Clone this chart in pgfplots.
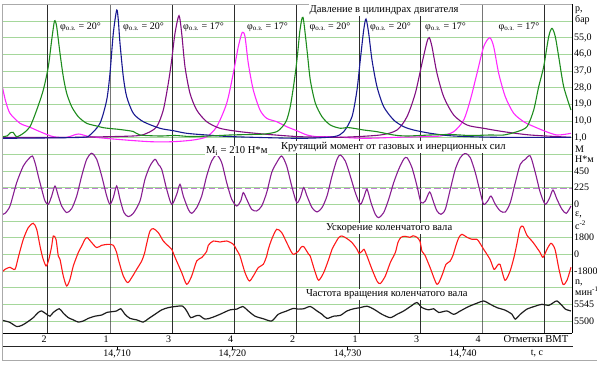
\documentclass[border=0pt]{standalone}
\usepackage{pgfplots}
\pgfplotsset{compat=1.18}
\usepackage{fontspec}
\setmainfont{Liberation Serif}
\definecolor{gridg}{RGB}{165,215,155}
\definecolor{cgreen}{RGB}{30,140,30}
\definecolor{cblue}{RGB}{25,25,145}
\definecolor{cpurp}{RGB}{130,15,130}
\definecolor{cmag}{RGB}{255,40,255}
\definecolor{ctorq}{RGB}{135,30,145}
\definecolor{cmi}{RGB}{190,125,210}
\definecolor{cred}{RGB}{255,25,25}
\definecolor{cblack}{RGB}{30,30,30}
\definecolor{vline}{RGB}{45,45,45}
\definecolor{frameg}{RGB}{170,170,170}
\newcommand\lf{\fontsize{10}{12}\selectfont}
\newcommand\tf{\fontsize{10.6}{12}\selectfont}
\pgfplotsset{
  panel/.style={
    scale only axis, width=570pt, height=329pt,
    at={(2pt,31.7pt)}, anchor=south west,
    xmin=0, xmax=49.48,
    axis line style={draw=none},
    xtick=\empty,
    yticklabel pos=right,
    major tick length=0pt,
    yticklabel style={font=\lf, inner xsep=2pt, inner ysep=1pt},
    every axis plot/.append style={smooth, tension=0.45, line width=1.1pt},
  }
}
\begin{document}
\begin{tikzpicture}
\useasboundingbox (0,0) rectangle (597pt,365pt);
% base grid and VMT marks (pressure scale: one grid step = 9 bar)
\begin{axis}[panel, ymin=-104.68, ymax=72.98, ytick=\empty, clip=false]
\pgfplotsinvokeforeach{-98,-89,...,64}{
  \draw[gridg, line width=0.8pt] (axis cs:0,#1) -- (axis cs:49.48,#1);
}
\pgfplotsinvokeforeach{3.967,9.375,14.783,20.165,25.582,31.016,36.311,41.667,47.075}{
  \draw[vline, line width=0.7pt] (axis cs:#1,72.98) -- (axis cs:#1,-104.68) -- ++(0,-3pt);
}
\end{axis}
% pressure
\begin{axis}[panel, ymin=-104.68, ymax=72.98, ytick={1,10,19,28,37,46,55}, yticklabels={{1,0},{10,0},{19,0},{28,0},{37,0},{46,0},{55,0}}]
\addplot[cmag] coordinates {(0,29.40)(0.3,21.0)(0.694,14.12)(1.563,8.72)(2.431,6.56)(3.299,4.19)(4.453,1.49)(5.616,1.16)(6.623,2.94)(7.639,1.49)(9.957,0.08)(12.847,-1.21)(14.870,-1.21)(16.606,-0.30)(17.769,1.49)(18.637,6.89)(19.505,19.52)(20.078,35.72)(20.512,50.09)(20.859,57.86)(21.094,55.49)(21.380,41.12)(21.814,26.70)(22.396,15.90)(22.977,11.42)(23.845,9.59)(24.713,6.89)(25.582,4.73)(26.476,2.40)(27.344,1.49)(28.498,1.49)(31.398,0.62)(34.288,1.16)(36.606,1.49)(38.047,1.86)(39.210,4.19)(40.078,10.50)(40.651,21.30)(41.233,35.72)(41.814,50.09)(42.335,54.95)(42.682,50.09)(43.116,35.72)(43.689,23.09)(44.418,14.12)(45.286,9.59)(45.859,7.80)(47.023,4.73)(48.177,2.40)(49.392,3.32)};
\addplot[cpurp] coordinates {(0,1.16)(5.035,1.05)(11.372,1.86)(12.561,3.32)(13.429,6.89)(14.002,15.90)(14.436,30.32)(14.731,42.90)(15.017,57.32)(15.365,66.83)(15.599,57.32)(15.885,39.29)(16.319,24.92)(16.901,15.90)(17.769,9.59)(18.924,6.02)(20.660,4.19)(22.977,2.78)(25.868,1.49)(29.340,1.16)(32.839,2.40)(34.288,5.10)(35.156,12.29)(35.877,24.92)(36.458,41.12)(36.892,52.70)(37.092,54.95)(37.326,50.09)(37.760,35.72)(38.342,23.09)(39.210,13.20)(40.365,7.80)(41.814,6.02)(43.550,4.19)(45.859,2.40)(49.392,1.16)};
\addplot[cblue] coordinates {(0,0.62)(3.299,0.78)(7.031,1.16)(7.639,2.40)(8.507,8.72)(9.089,21.30)(9.375,35.72)(9.661,57.32)(9.957,69.90)(10.095,64.50)(10.243,51.92)(10.530,33.89)(10.825,23.09)(11.398,14.12)(12.266,9.59)(13.715,6.02)(14.870,4.73)(16.033,3.32)(17.769,2.40)(20.052,1.49)(25.868,0.62)(28.793,1.49)(29.661,4.19)(30.382,12.29)(30.816,26.70)(31.102,42.90)(31.398,59.10)(31.597,65.04)(31.832,57.32)(32.118,42.90)(32.552,28.49)(33.134,17.69)(34.002,10.50)(34.870,6.89)(35.738,5.10)(37.179,3.32)(39.210,1.86)(42.969,1.16)(49.392,1.16)};
\addplot[cgreen] coordinates {(0,1.49)(0.434,1.86)(0.694,3.48)(0.955,3.86)(1.276,1.49)(1.849,3.32)(2.431,6.89)(3.012,15.90)(3.585,26.70)(4.019,39.29)(4.314,53.70)(4.514,62.72)(4.601,64.13)(4.748,60.89)(5.035,46.52)(5.321,33.89)(5.616,24.92)(6.050,17.69)(6.623,12.29)(7.352,8.72)(8.220,7.26)(8.793,6.35)(9.375,5.91)(10.243,5.37)(11.398,4.29)(11.979,2.40)(13.715,1.86)(15.017,2.13)(16.319,1.59)(18.056,1.86)(19.792,2.40)(21.528,2.67)(22.830,2.94)(23.845,4.19)(24.392,7.26)(24.713,10.50)(25.000,16.98)(25.260,26.70)(25.521,38.58)(25.694,48.30)(25.868,59.10)(26.128,65.96)(26.476,48.30)(26.762,32.10)(27.196,19.68)(27.778,12.29)(28.498,7.80)(29.366,6.02)(29.948,6.45)(30.530,6.02)(31.398,5.10)(32.552,4.19)(34.002,2.40)(35.156,1.86)(37.153,2.40)(38.889,2.67)(40.625,2.13)(42.361,2.40)(43.550,2.40)(44.705,4.19)(45.573,6.89)(46.155,15.90)(46.589,28.49)(47.023,39.29)(47.457,55.49)(47.743,60.02)(48.030,55.49)(48.325,44.69)(48.759,28.49)(49.392,15.90)};
\end{axis}
% torque
\begin{axis}[panel, ymin=-1741.5, ymax=2700, ytick={0,225,450}, yticklabels={0,225,450}]
\addplot[cmi, line width=1.2pt, dash pattern=on 6pt off 3pt] coordinates {(0,210)(49.48,210)};
\addplot[ctorq] coordinates {(0,-135)(0.260,-122)(0.694,-23)(1.276,293)(1.849,517)(2.283,608)(2.630,652)(2.865,563)(3.151,382)(3.446,203)(3.733,45)(4.019,0)(4.314,112)(4.601,247)(4.887,112)(5.182,-23)(5.616,-112)(6.050,-58)(6.484,112)(6.918,382)(7.352,608)(7.786,689)(8.220,608)(8.654,382)(9.089,112)(9.375,0)(9.661,90)(9.957,247)(10.243,68)(10.590,-112)(10.964,-166)(11.398,-122)(11.979,45)(12.413,338)(12.847,517)(13.281,608)(13.568,540)(13.863,473)(14.297,203)(14.731,0)(15.165,135)(15.451,270)(15.738,112)(16.172,-68)(16.467,-122)(16.901,-45)(17.335,112)(17.769,382)(18.203,585)(18.637,666)(19.071,563)(19.505,293)(19.939,68)(20.373,-23)(20.720,45)(20.946,158)(21.241,68)(21.675,-68)(22.109,-90)(22.543,-23)(22.977,158)(23.411,428)(23.845,563)(24.279,652)(24.713,517)(25.148,247)(25.582,23)(25.894,90)(26.189,225)(26.476,112)(26.910,-45)(27.344,-104)(27.778,-45)(28.212,112)(28.646,382)(29.080,608)(29.366,666)(29.800,585)(30.234,382)(30.668,158)(31.102,0)(31.398,90)(31.684,203)(32.031,23)(32.405,-135)(32.700,-180)(33.134,-112)(33.568,68)(34.002,293)(34.436,473)(34.870,608)(35.156,630)(35.590,495)(36.024,247)(36.372,23)(36.745,45)(37.127,166)(37.474,23)(37.760,-90)(38.108,-135)(38.481,-68)(38.915,203)(39.349,473)(39.783,630)(40.217,689)(40.651,630)(41.085,428)(41.519,158)(41.814,0)(42.161,45)(42.448,112)(42.821,0)(43.255,-90)(43.689,-104)(44.123,23)(44.557,293)(44.991,540)(45.425,608)(45.859,652)(46.293,428)(46.727,158)(47.161,0)(47.543,90)(47.830,193)(48.177,68)(48.611,-68)(48.984,-122)(49.392,-23)};
\end{axis}
% acceleration
\begin{axis}[panel, ymin=-8532, ymax=27000, ytick={-1800,0,1800}, yticklabels={-1800,0,1800}]
\addplot[cred] coordinates {(0,-1944)(0.260,-1620)(0.694,-1404)(1.128,-1620)(1.415,-324)(1.849,1620)(2.283,2884)(2.717,3348)(3.012,2700)(3.299,896)(3.533,-356)(3.820,-1264)(4.019,-756)(4.167,0)(4.314,896)(4.453,1976)(4.687,1620)(4.887,-184)(5.035,-540)(5.321,-2344)(5.616,-3424)(5.903,-2700)(6.189,-1264)(6.623,184)(6.918,896)(7.205,1620)(7.404,1804)(7.786,1264)(8.220,724)(8.654,972)(9.227,1080)(9.661,972)(9.957,184)(10.095,-540)(10.530,-2344)(10.911,-3056)(11.259,-2516)(11.693,-1620)(12.127,-724)(12.370,108)(12.587,1296)(12.847,2516)(13.134,2776)(13.568,2344)(14.002,1436)(14.436,896)(14.731,540)(15.017,-324)(15.599,-1976)(16.033,-3240)(16.467,-2344)(16.901,-724)(17.335,-356)(17.769,324)(17.908,972)(18.342,1436)(18.924,1328)(19.505,1436)(20.078,1080)(20.425,356)(20.660,-184)(21.094,-1976)(21.467,-2884)(21.814,-2344)(22.248,-1436)(22.682,-1080)(22.977,-184)(23.116,540)(23.411,1620)(23.845,2700)(24.279,2344)(24.713,1264)(25.148,184)(25.347,0)(25.720,324)(25.955,756)(26.189,832)(26.623,0)(26.762,-216)(27.196,-1976)(27.491,-2808)(27.925,-1976)(28.359,-540)(28.646,540)(28.793,896)(29.227,1804)(29.514,1976)(29.948,1696)(30.382,1264)(30.816,540)(30.990,108)(31.250,324)(31.424,540)(31.684,-184)(32.118,-1620)(32.552,-2884)(32.839,-3164)(33.273,-2344)(33.707,-896)(34.141,184)(34.375,1296)(34.635,1836)(34.983,1944)(35.417,1836)(35.677,1998)(36.024,1836)(36.285,1404)(36.458,324)(36.719,-108)(37.153,-1404)(37.760,-3240)(38.194,-2268)(38.542,-1080)(38.889,-756)(39.149,-108)(39.410,972)(39.670,1836)(39.931,2160)(40.365,1836)(40.799,1620)(41.233,1620)(41.493,1188)(41.814,540)(42.361,-540)(42.708,-1620)(42.969,-1264)(43.229,-1080)(43.663,-2808)(44.097,-1836)(44.444,-324)(44.705,1188)(44.965,2808)(45.226,3024)(45.573,2052)(46.094,1296)(46.701,216)(46.962,-324)(47.309,540)(47.656,1188)(48.003,540)(48.351,-1620)(48.698,-3240)(49.045,-2808)(49.392,-1404)};
\end{axis}
% rotational speed
\begin{axis}[panel, ymin=5466.7, ymax=6355, ytick={5500,5545}, yticklabels={5500,5545}]
\addplot[cblack, line width=1.2pt] coordinates {(0,5502)(0.260,5500)(0.694,5496)(1.276,5485)(1.710,5488)(2.144,5496)(2.717,5509)(3.151,5523)(3.446,5527)(3.880,5518)(4.167,5513)(4.453,5523)(4.974,5533)(5.321,5521)(5.755,5509)(6.189,5503)(6.623,5497)(7.057,5500)(7.491,5507)(8.073,5513)(8.654,5516)(9.089,5523)(9.523,5525)(9.957,5527)(10.304,5533)(10.677,5518)(11.111,5507)(11.693,5503)(12.266,5497)(12.700,5506)(13.281,5518)(13.863,5530)(14.436,5536)(15.017,5539)(15.686,5540)(16.033,5527)(16.380,5509)(16.753,5513)(17.127,5515)(17.622,5505)(18.203,5509)(18.924,5518)(19.792,5530)(20.373,5532)(20.894,5539)(21.380,5527)(21.962,5513)(22.682,5506)(23.411,5500)(23.984,5518)(24.713,5527)(25.286,5534)(25.720,5532)(26.189,5533)(26.762,5539)(27.344,5527)(27.778,5518)(28.212,5507)(28.793,5513)(29.366,5515)(29.948,5527)(30.530,5533)(31.102,5536)(31.684,5540)(32.266,5532)(32.986,5518)(33.707,5509)(34.288,5518)(34.870,5527)(35.590,5542)(36.024,5550)(36.458,5536)(37.040,5530)(37.474,5533)(37.908,5523)(38.628,5527)(39.210,5518)(39.783,5527)(40.512,5539)(41.233,5548)(41.814,5554)(42.387,5545)(42.969,5536)(43.689,5529)(44.271,5518)(44.557,5505)(44.991,5518)(45.573,5532)(46.293,5540)(46.875,5545)(47.457,5542)(47.891,5550)(48.177,5554)(48.611,5542)(48.898,5532)(49.392,5527)};
\end{axis}
% frame, labels (image pixel coordinates)
\begin{scope}[x=1pt,y=-1pt,shift={(0,365pt)}]
\draw[frameg, line width=0.8pt] (2,333.3) -- (2,4.3) -- (572,4.3);
\draw[black, line width=0.8pt] (572,4.3) -- (572,333.3);
\draw[black, line width=1.4pt] (2,333.3) -- (572,333.3);
\draw[black!85, line width=0.8pt] (2,346.7) -- (573,346.7);
\draw[frameg, line width=0.8pt] (2,333.3) -- (2,360.7) -- (597,360.7);
\foreach \xx in {117.2,232.4,347.6,462.8} \draw[black, line width=0.6pt] (\xx,346.7) -- ++(0,3);
\node[font=\lf] at (117.2,353.5) {14,710};
\node[font=\lf] at (232.4,353.5) {14,720};
\node[font=\lf] at (347.6,353.5) {14,730};
\node[font=\lf] at (462.8,353.5) {14,740};
\node[font=\lf] at (537,353.5) {t, с};
% VMT numbers
\node[font=\lf] at (44,339.5) {2};
\node[font=\lf] at (106,339.5) {1};
\node[font=\lf] at (168.5,339.5) {3};
\node[font=\lf] at (230.5,339.5) {4};
\node[font=\lf] at (292.5,339.5) {2};
\node[font=\lf] at (355,339.5) {1};
\node[font=\lf] at (416.5,339.5) {3};
\node[font=\lf] at (478,339.5) {4};
\node[font=\tf, anchor=east, inner sep=0.5pt] at (569,339.5) {Отметки ВМТ};
% panel titles
\node[font=\tf, anchor=west, fill=white, inner sep=1pt] at (308.5,10) {Давление в цилиндрах двигателя};
\node[font=\tf, anchor=west, fill=white, inner sep=0.8pt] at (280,147) {Крутящий момент от газовых и инерционных сил};
\node[font=\tf, anchor=west, fill=white, inner sep=0.8pt] at (205,151) {M\textsubscript{i} = 210 Н*м};
\node[font=\tf, anchor=west, fill=white, inner sep=0.8pt] at (325,228.5) {Ускорение коленчатого вала};
\node[font=\tf, anchor=west, fill=white, inner sep=0.8pt] at (305,294.5) {Частота вращения коленчатого вала};
% ignition advance labels
\foreach \xx/\aa in {60/20,123/20,183/17,247/17,309.5/20,370/20,425/17,498.5/17}
  \node[font=\lf, anchor=west, inner sep=0pt] at (\xx,27) {φ\textsubscript{о.з.} = \aa°};
% right axis units
\node[font=\lf, anchor=west, inner sep=0pt] at (575,10) {р,};
\node[font=\lf, anchor=west, inner sep=0pt] at (575,19.5) {бар};
\node[font=\lf, anchor=west, inner sep=0pt] at (575,149) {М};
\node[font=\lf, anchor=west, inner sep=0pt] at (575,159) {Н*м};
\node[font=\lf, anchor=west, inner sep=0pt] at (575,215) {ε,};
\node[font=\lf, anchor=west, inner sep=0pt] at (575,225) {с\textsuperscript{-2}};
\node[font=\lf, anchor=west, inner sep=0pt] at (575,282.5) {n,};
\node[font=\lf, anchor=west, inner sep=0pt] at (575,291) {мин\textsuperscript{-1}};
\end{scope}
\end{tikzpicture}
\end{document}
